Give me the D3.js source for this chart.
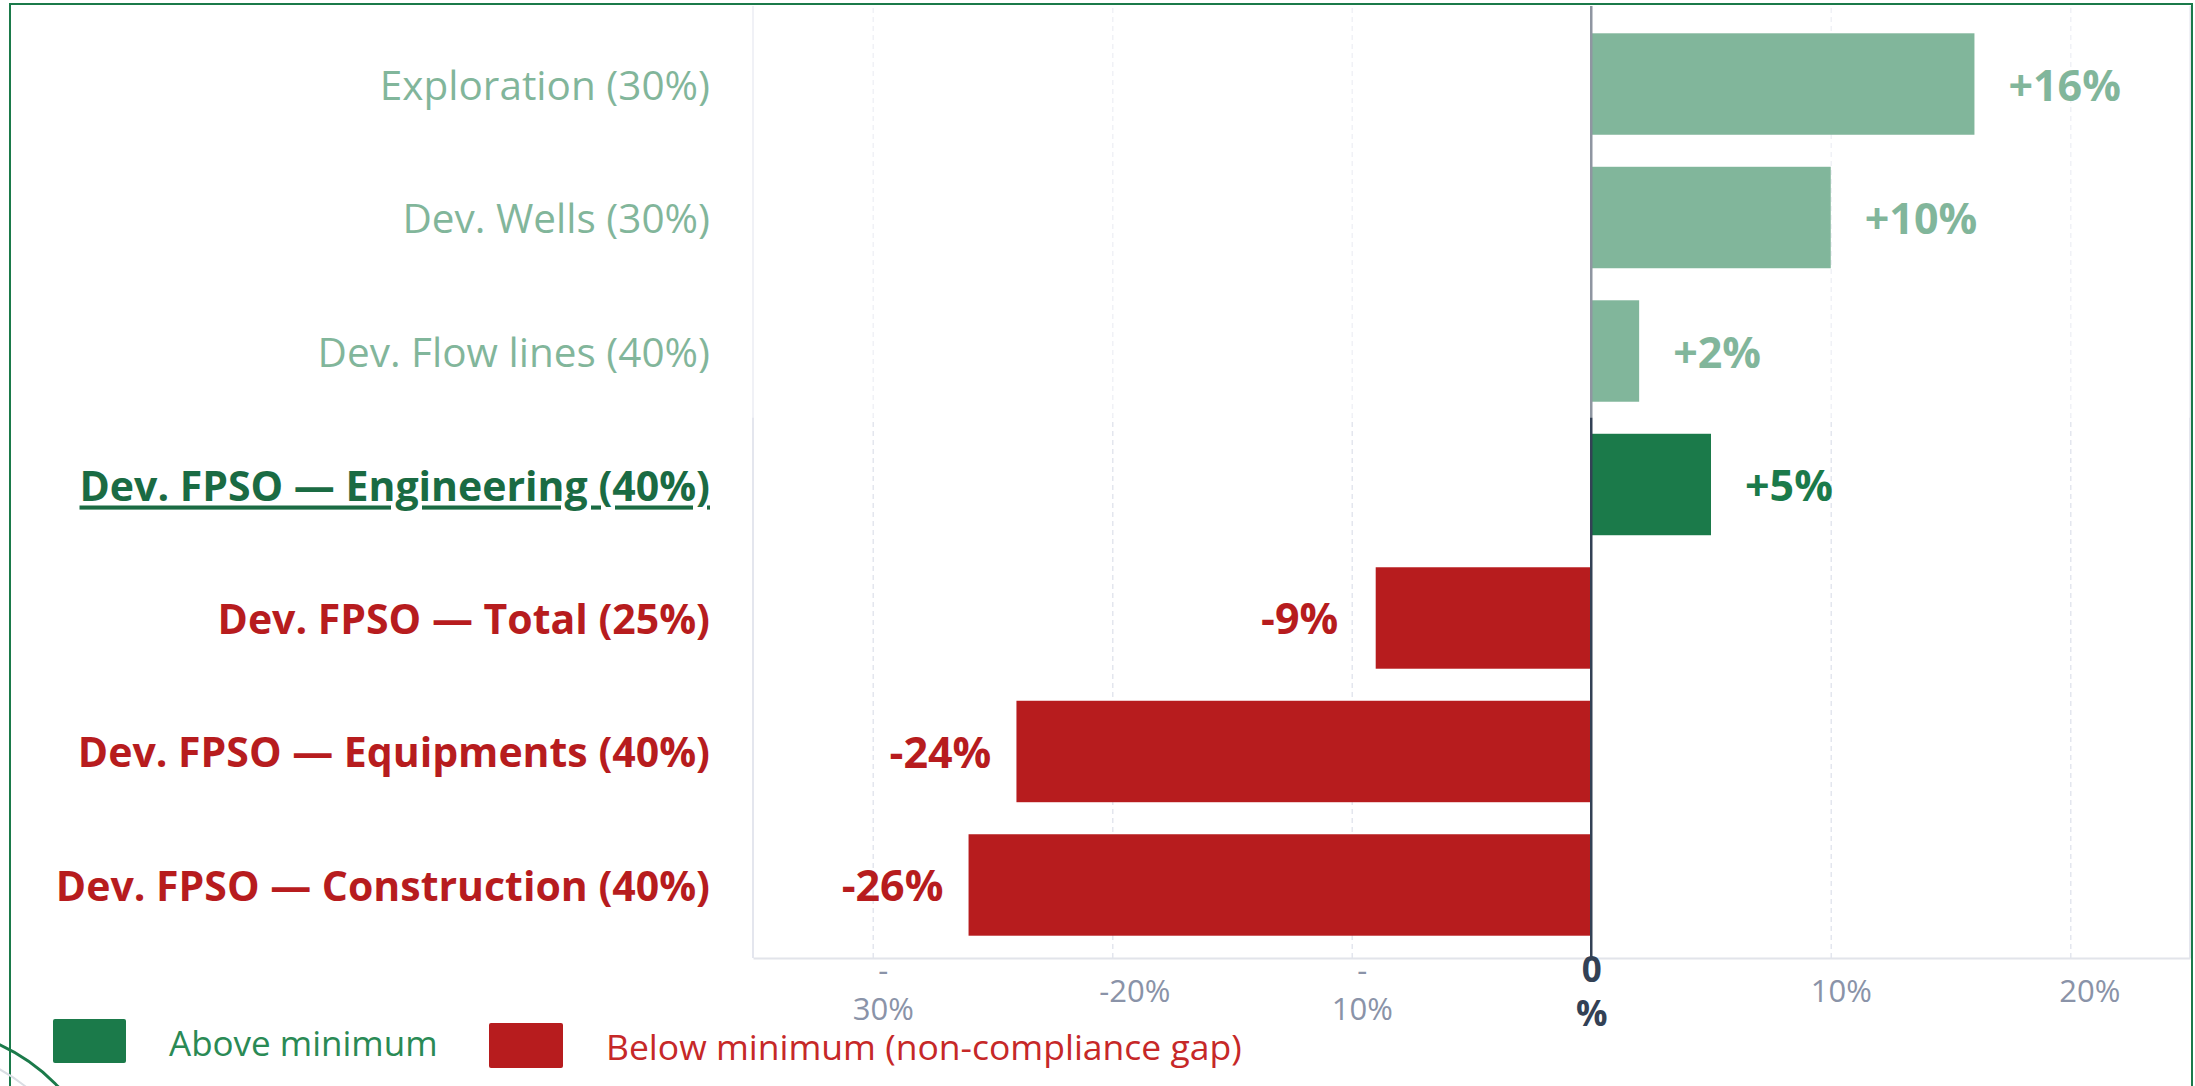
<!DOCTYPE html>
<html>
<head>
<meta charset="utf-8">
<script src="https://cdnjs.cloudflare.com/ajax/libs/d3/7.8.5/d3.min.js"></script>
<style>
  body { margin: 0; background: #fff; }
  svg { display: block; font-family: 'Segoe UI', 'Open Sans', sans-serif; }
</style>
</head>
<body>
<div id="chart"></div>
<script>
/*
  LOCAL CONTENT GAP VS MINIMUM — diverging bars
*/
const categories = [
  'Exploration (30%)',
  'Dev. Wells (30%)',
  'Dev. Flow lines (40%)',
  'Dev. FPSO — Engineering (40%)',
  'Dev. FPSO — Total (25%)',
  'Dev. FPSO — Equipments (40%)',
  'Dev. FPSO — Construction (40%)'
];
const gaps = [16, 10, 2, 5, -9, -24, -26];
const valueLabels = ['+16%', '+10%', '+2%', '+5%', '-9%', '-24%', '-26%'];

const tickValues = [-30, -20, -10, 0, 10, 20];
// the labels wrap in the original, one entry per line
const tickLabels = [['-', '30%'], ['-20%'], ['-', '10%'], ['0', '%'], ['10%'], ['20%']];

const legendLabels = ['Above minimum', 'Below minimum (non-compliance gap)'];

const highlighted = 'Dev. FPSO — Engineering (40%)';
const dimmedRows = 3; // first rows are greyed out

const W = 2195, H = 1086;
const plot = { left: 753, right: 2190, top: 6, bottom: 958 };

const GREEN = '#1b7a4a', RED = '#b71c1e';

// small horizontal nudges of the tick labels, as in the original
const tickShift = { '-20': 22, '0': 0, '20': 19 };

const svg = d3.select('#chart').append('svg')
  .attr('width', W)
  .attr('height', H)
  .attr('viewBox', `0 0 ${W} ${H}`);

const x = d3.scaleLinear()
  .domain([-35, 25])
  .range([plot.left, plot.right]);

const y = d3.scaleBand()
  .domain(categories)
  .range([11, plot.bottom])
  .paddingInner(0.24)
  .paddingOuter(0.167);

// grid
svg.append('g')
  .attr('transform', `translate(0, ${plot.bottom})`)
  .call(d3.axisBottom(x)
    .tickValues(tickValues.filter(d => d !== 0))
    .tickSize(-(plot.bottom - plot.top))
    .tickFormat(''))
  .call(g => g.select('.domain').remove())
  .call(g => g.selectAll('.tick line')
    .attr('stroke', '#e3e6ee')
    .attr('stroke-width', 1.5)
    .attr('stroke-dasharray', '5,4'));

// plot frame (left / right)
svg.append('line')
  .attr('x1', plot.left).attr('x2', plot.left)
  .attr('y1', plot.top).attr('y2', plot.bottom)
  .attr('stroke', '#e4e6ee').attr('stroke-width', 2);
svg.append('line')
  .attr('x1', plot.right).attr('x2', plot.right)
  .attr('y1', plot.top).attr('y2', plot.bottom)
  .attr('stroke', '#e4e6ee').attr('stroke-width', 2);

// bars
svg.selectAll('rect.bar')
  .data(gaps)
  .enter()
  .append('rect')
  .attr('class', 'bar')
  .attr('x', d => x(Math.min(0, d)))
  .attr('y', (d, i) => y(categories[i]))
  .attr('width', d => Math.abs(x(d) - x(0)))
  .attr('height', y.bandwidth())
  .attr('fill', d => d >= 0 ? GREEN : RED);

// zero line
svg.append('line')
  .attr('x1', x(0)).attr('x2', x(0))
  .attr('y1', plot.top).attr('y2', plot.bottom)
  .attr('stroke', '#334155')
  .attr('stroke-width', 2.5);

// value labels: positive ones start after the bar, negative ones are centred left of it
svg.selectAll('text.value')
  .data(gaps)
  .enter()
  .append('text')
  .attr('class', 'value')
  .attr('x', d => d >= 0 ? x(d) + 34 : x(d) - 76)
  .attr('y', (d, i) => y(categories[i]) + y.bandwidth() / 2)
  .attr('text-anchor', d => d >= 0 ? 'start' : 'middle')
  .attr('dominant-baseline', 'central')
  .attr('font-size', 43)
  .attr('font-weight', 700)
  .attr('fill', d => d >= 0 ? GREEN : RED)
  .text((d, i) => valueLabels[i]);

// category labels
svg.selectAll('text.cat')
  .data(categories)
  .enter()
  .append('text')
  .attr('class', 'cat')
  .attr('x', 710)
  .attr('y', d => y(d) + y.bandwidth() / 2)
  .attr('text-anchor', 'end')
  .attr('dominant-baseline', 'central')
  .attr('font-size', (d, i) => i >= dimmedRows ? 41 : 40.5)
  .attr('font-weight', (d, i) => i >= dimmedRows ? 700 : 400)
  .attr('text-decoration', d => d === highlighted ? 'underline' : null)
  .attr('fill', (d, i) => gaps[i] >= 0 ? (d === highlighted ? '#1a6b43' : GREEN) : RED)
  .text(d => d);

// bottom axis
const xAxis = svg.append('g')
  .attr('transform', `translate(0, ${plot.bottom})`)
  .call(d3.axisBottom(x).tickValues(tickValues).tickSize(0).tickFormat(''));

xAxis.select('.domain')
  .attr('stroke', '#e2e4ea')
  .attr('stroke-width', 2);

xAxis.selectAll('.tick text').each(function (d, i) {
  const lines = tickLabels[i];
  const isZero = d === 0;
  const shift = tickShift[d] !== undefined ? tickShift[d] : 10;
  const t = d3.select(this)
    .attr('y', 0)
    .attr('dy', null)
    .attr('font-size', isZero ? 35 : 31)
    .attr('font-weight', isZero ? 700 : 400)
    .attr('fill', isZero ? '#334155' : '#8a93a8')
    .attr('font-family', "'Segoe UI', 'Open Sans', sans-serif")
    .attr('dominant-baseline', 'central');
  const offsets = lines.length === 1 ? [32] : (isZero ? [10, 54] : [11, 50]);
  lines.forEach((s, k) => {
    t.append('tspan')
      .attr('x', shift)
      .attr('y', offsets[k])
      .text(s);
  });
});

// fade the first rows (white veil)
const veilBottom = y(categories[dimmedRows]) - y.step() * y.paddingInner() / 2;
svg.append('rect')
  .attr('x', 12)
  .attr('y', 6)
  .attr('width', plot.right - 12)
  .attr('height', veilBottom - 6)
  .attr('fill', '#fff')
  .attr('opacity', 0.45);

// legend
const legend = svg.append('g');
legend.append('rect')
  .attr('x', 53).attr('y', 1019)
  .attr('width', 73).attr('height', 44)
  .attr('rx', 2)
  .attr('fill', GREEN);
legend.append('text')
  .attr('x', 169).attr('y', 1042)
  .attr('dominant-baseline', 'central')
  .attr('font-size', 35)
  .attr('fill', '#2a8a55')
  .text(legendLabels[0]);
legend.append('rect')
  .attr('x', 489).attr('y', 1023)
  .attr('width', 74).attr('height', 45)
  .attr('rx', 2)
  .attr('fill', RED);
legend.append('text')
  .attr('x', 606).attr('y', 1046)
  .attr('dominant-baseline', 'central')
  .attr('font-size', 35.5)
  .attr('fill', '#c62828')
  .text(legendLabels[1]);

// outer green frame + corner of the logo ring
svg.append('rect')
  .attr('x', 10).attr('y', 4)
  .attr('width', 2182).attr('height', H + 20)
  .attr('fill', 'none')
  .attr('stroke', GREEN)
  .attr('stroke-width', 2);

svg.append('circle')
  .attr('cx', -81).attr('cy', 1219).attr('r', 170)
  .attr('fill', 'none')
  .attr('stroke', '#d9dde3')
  .attr('stroke-width', 2);
svg.append('circle')
  .attr('cx', -81).attr('cy', 1219).attr('r', 192)
  .attr('fill', 'none')
  .attr('stroke', GREEN)
  .attr('stroke-width', 3);
</script>
</body>
</html>
